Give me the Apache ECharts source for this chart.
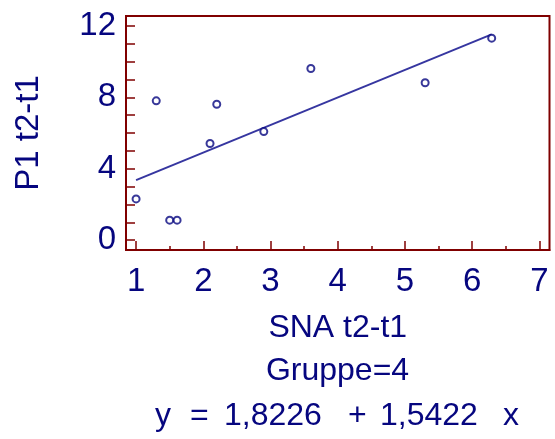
<!DOCTYPE html>
<html>
<head>
<meta charset="utf-8">
<script src="https://cdn.jsdelivr.net/npm/echarts@6/dist/echarts.min.js"></script>
<style>
  html, body { margin: 0; padding: 0; background: #ffffff; }
  #chart { width: 555px; height: 439px; }
</style>
</head>
<body>
<div id="chart"></div>
<script>
// Change scores: SNA (t2-t1) against P1 (t2-t1), group 4
const snaValues = [1.00, 1.30, 1.50, 1.61, 2.10, 2.20, 2.90, 3.60, 5.30, 6.29];
const p1Values  = [2.31, 7.80, 1.12, 1.12, 5.41, 7.61, 6.08, 9.61, 8.81, 11.31];

// Fitted regression line y = a + b x
const intercept = 1.8226;
const slope = 1.5422;

const xTickValues = [1, 2, 3, 4, 5, 6, 7];
const xMinorTickValues = [1.5, 2.5, 3.5, 4.5, 5.5, 6.5];
const yTickValues = [0, 1, 2, 3, 4, 5, 6, 7, 8, 9, 10, 11, 12];
const yLabelValues = [0, 4, 8, 12];

const groupLabel = 'Gruppe=4';
const xName = 'SNA t2-t1';
const yName = 'P1 t2-t1';

const navy = '#06067f';
const frame = '#800000';
const fitColor = '#3636a0';
const font = '"Liberation Sans", Arial, sans-serif';

const points = snaValues.map((x, i) => [x, p1Values[i]]);
const xLo = Math.min.apply(null, snaValues);
const xHi = Math.max.apply(null, snaValues);
const fitLine = [xLo, xHi].map(x => [x, intercept + slope * x]);

const fmt = v => v.toFixed(4).replace('.', ',');
// Equation pieces, each placed on its own to keep the wide spacing
const eqPieces = [
  ['y', 155],
  ['=', 190],
  [fmt(intercept), 224],
  ['+', 348],
  [fmt(slope), 380],
  ['x', 503]
];

const chart = echarts.init(document.getElementById('chart'), null, { renderer: 'canvas' });

chart.setOption({
  backgroundColor: '#ffffff',
  animation: false,
  grid: {
    left: 126, top: 16, right: 5.5, bottom: 189,
    show: true,
    borderColor: frame,
    borderWidth: 2,
    backgroundColor: 'transparent'
  },
  xAxis: [
    {
      type: 'value',
      min: 0.85, max: 7.15,
      position: 'bottom',
      axisLine: { show: true, onZero: false, lineStyle: { color: frame, width: 2 } },
      axisTick: {
        show: true, inside: true, length: 9,
        customValues: xTickValues,
        lineStyle: { color: frame, width: 1.5 }
      },
      axisLabel: {
        show: true, margin: 15,
        customValues: xTickValues,
        color: navy, fontSize: 33, fontFamily: font
      },
      splitLine: { show: false },
      name: xName,
      nameLocation: 'middle',
      nameGap: 62,
      nameTextStyle: { color: navy, fontSize: 32, fontFamily: font }
    },
    {
      type: 'value',
      min: 0.85, max: 7.15,
      position: 'bottom',
      axisLine: { show: false, onZero: false },
      axisTick: {
        show: true, inside: true, length: 4,
        customValues: xMinorTickValues,
        lineStyle: { color: frame, width: 1.5 }
      },
      axisLabel: { show: false },
      splitLine: { show: false }
    }
  ],
  yAxis: {
    type: 'value',
    min: -0.55, max: 12.55,
    axisLine: { show: true, onZero: false, lineStyle: { color: frame, width: 2 } },
    axisTick: {
      show: true, inside: true, length: 9,
      customValues: yTickValues,
      lineStyle: { color: frame, width: 1.5 }
    },
    axisLabel: {
      show: true, margin: 10,
      customValues: yLabelValues,
      color: navy, fontSize: 33, fontFamily: font
    },
    splitLine: { show: false },
    name: yName,
    nameLocation: 'middle',
    nameRotate: 90,
    nameGap: 81,
    nameTextStyle: { color: navy, fontSize: 33, fontFamily: font }
  },
  series: [
    {
      type: 'line',
      data: fitLine,
      showSymbol: false,
      symbol: 'none',
      lineStyle: { color: fitColor, width: 2 },
      z: 2,
      silent: true
    },
    {
      type: 'scatter',
      data: points,
      symbol: 'emptyCircle',
      symbolSize: 7,
      itemStyle: { color: navy, borderColor: navy, borderWidth: 1.2 },
      z: 3
    }
  ],
  graphic: [
    {
      type: 'text',
      x: 337.5, y: 371.5,
      style: {
        text: groupLabel,
        align: 'center', verticalAlign: 'middle',
        fill: navy, fontSize: 32, fontFamily: font
      },
      silent: true
    }
  ].concat(eqPieces.map(p => ({
    type: 'text',
    x: p[1], y: 416.5,
    style: {
      text: p[0],
      align: 'left', verticalAlign: 'middle',
      fill: navy, fontSize: 32, fontFamily: font
    },
    silent: true
  })))
});
</script>
</body>
</html>
